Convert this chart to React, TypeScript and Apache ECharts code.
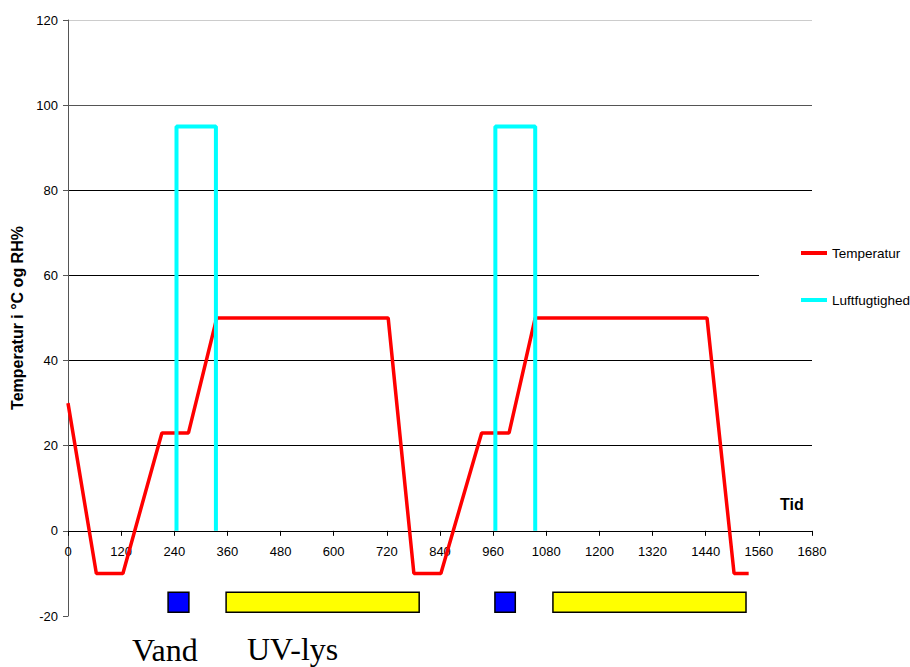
import React, { useEffect, useRef } from "react";
import * as echarts from "echarts";

// Temperature profile (time in minutes, value in °C)
const tempTime = [0, 64, 124, 212, 272, 336, 723, 781, 842, 934, 996, 1055, 1443, 1504, 1537];
const tempValues = [30, -10, -10, 23, 23, 50, 50, -10, -10, 23, 23, 50, 50, -10, -10];

// Humidity pulses (RH %), two separate pulses
const hum1Time = [245, 245, 334, 334];
const hum1Values = [0, 95, 95, 0];
const hum2Time = [965, 965, 1055, 1055];
const hum2Values = [0, 95, 95, 0];

// Event bars drawn below the axis (start/end time)
const vandIntervals = [
  [226, 273],
  [964, 1010],
];
const uvIntervals = [
  [357, 793],
  [1095, 1531],
];
const barValueRange = [-14.4, -19.1];

const seriesNames = ["Temperatur", "Luftfugtighed"];
const bottomLabels = ["Vand", "UV-lys"];
const xAxisTitle = "Tid";
const yAxisTitle = "Temperatur i °C og RH%";

const X_MIN = 0;
const X_MAX = 1680;
const Y_MIN = -20;
const Y_MAX = 120;

const zip = (xs: number[], ys: number[]) => xs.map((x, i) => [x, ys[i]]);

export default function App() {
  const ref = useRef<HTMLDivElement>(null);

  useEffect(() => {
    if (!ref.current) return;
    const chart = echarts.init(ref.current, null, { renderer: "svg" });
    const sans = "'Liberation Sans', Arial, sans-serif";
    const serif = "'Liberation Serif', 'Times New Roman', serif";

    const gridTop = 20;
    const gridBottom = 51;
    const plotH = 667 - gridTop - gridBottom;
    // lift the x axis from the bottom of the grid up to the value 0
    const zeroOffset = -((0 - Y_MIN) / (Y_MAX - Y_MIN)) * plotH;

    const boxData = [
      ...vandIntervals.map((iv) => [iv[0], iv[1], barValueRange[0], barValueRange[1], 0]),
      ...uvIntervals.map((iv) => [iv[0], iv[1], barValueRange[0], barValueRange[1], 1]),
    ];
    const boxColors = ["#0000ff", "#ffff00"];

    chart.setOption({
      animation: false,
      backgroundColor: "#ffffff",
      grid: { left: 68, right: 98, top: gridTop, bottom: gridBottom, containLabel: false },
      xAxis: {
        type: "value",
        min: X_MIN,
        max: X_MAX,
        interval: 120,
        offset: zeroOffset,
        axisLine: { show: true, onZero: false, lineStyle: { color: "#000", width: 1 } },
        axisTick: { show: true, length: 5, lineStyle: { color: "#000" } },
        axisLabel: {
          margin: 14,
          fontSize: 13,
          color: "#000",
          fontFamily: sans,
          formatter: (v: number) => String(v),
        },
        splitLine: { show: false },
      },
      yAxis: {
        type: "value",
        min: Y_MIN,
        max: Y_MAX,
        interval: 20,
        name: yAxisTitle,
        nameLocation: "middle",
        nameGap: 34,
        nameTextStyle: { fontSize: 16, fontWeight: "bold", color: "#000", fontFamily: sans },
        axisLine: { show: true, onZero: false, lineStyle: { color: "#555", width: 1 } },
        axisTick: { show: true, length: 5, lineStyle: { color: "#555" } },
        axisLabel: {
          margin: 10,
          fontSize: 13,
          color: "#000",
          fontFamily: sans,
          formatter: (v: number) => String(v),
        },
        splitLine: {
          show: true,
          lineStyle: {
            color: ["transparent", "#000", "#000", "#000", "#000", "#000", "#555", "#ccc"],
            width: 1,
          },
        },
      },
      legend: {
        data: seriesNames,
        orient: "vertical",
        left: 759,
        top: 240,
        padding: [6, 10, 6, 42],
        backgroundColor: "#ffffff",
        icon: "rect",
        itemWidth: 26,
        itemHeight: 4,
        itemGap: 33,
        textStyle: { fontSize: 13.5, lineHeight: 14, color: "#000", fontFamily: sans },
      },
      graphic: [
        {
          type: "text",
          left: 780,
          top: 496,
          style: { text: xAxisTitle, fontSize: 16, fontWeight: "bold", fill: "#000", fontFamily: sans },
        },
        {
          type: "text",
          x: 132,
          y: 650,
          style: {
            text: bottomLabels[0],
            fontSize: 32,
            fill: "#000",
            fontFamily: serif,
            verticalAlign: "middle",
          },
        },
        {
          type: "text",
          x: 247,
          y: 649,
          style: {
            text: bottomLabels[1],
            fontSize: 32,
            fill: "#000",
            fontFamily: serif,
            verticalAlign: "middle",
          },
        },
      ],
      series: [
        {
          name: seriesNames[0],
          type: "line",
          data: zip(tempTime, tempValues),
          symbol: "none",
          lineStyle: { color: "#ff0000", width: 3.5 },
          itemStyle: { color: "#ff0000" },
          z: 3,
        },
        {
          name: seriesNames[1],
          type: "line",
          data: zip(hum1Time, hum1Values),
          symbol: "none",
          lineStyle: { color: "#00ffff", width: 4 },
          itemStyle: { color: "#00ffff" },
          z: 4,
        },
        {
          name: seriesNames[1],
          type: "line",
          data: zip(hum2Time, hum2Values),
          symbol: "none",
          lineStyle: { color: "#00ffff", width: 4 },
          itemStyle: { color: "#00ffff" },
          z: 4,
        },
        {
          type: "custom",
          name: "bars",
          data: boxData,
          encode: { x: [0, 1], y: [2, 3] },
          clip: false,
          renderItem: (params: any, api: any) => {
            const p0 = api.coord([api.value(0), api.value(2)]);
            const p1 = api.coord([api.value(1), api.value(3)]);
            const c = boxColors[api.value(4)];
            return {
              type: "rect",
              shape: { x: p0[0], y: p0[1], width: p1[0] - p0[0], height: p1[1] - p0[1] },
              style: { fill: c, stroke: "#000", lineWidth: 1.5 },
            };
          },
          z: 2,
        },
      ],
    });

    return () => chart.dispose();
  }, []);

  return (
    <div
      ref={ref}
      style={{ position: "fixed", left: 0, top: 0, width: 910, height: 667, background: "#fff" }}
    />
  );
}
